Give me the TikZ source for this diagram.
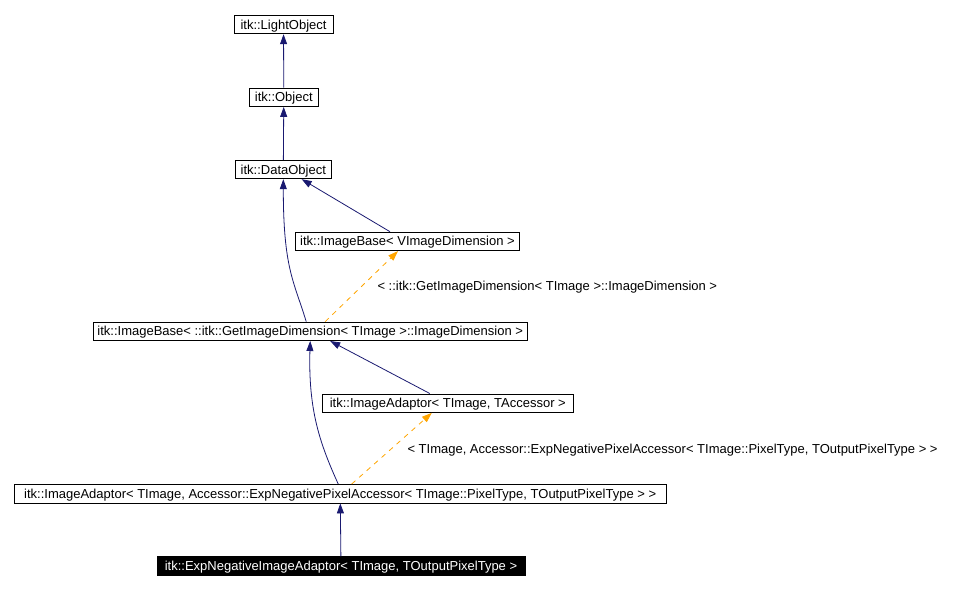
\documentclass[tikz,border=0pt]{standalone}
\usepackage{fontspec}
\setmainfont{Liberation Sans}
\usepackage{tikz}
\usetikzlibrary{arrows.meta,positioning}

\definecolor{edgeblue}{HTML}{191970}
\definecolor{edgeorange}{HTML}{FFA500}

\tikzset{
  cls/.style={draw,line width=0.9pt,inner xsep=4pt,inner ysep=0pt,
    minimum height=18.5pt,text depth=1.5pt,text height=10.5pt,
    font=\fontsize{13}{15}\selectfont},
  clsme/.style={cls,fill=black,text=white},
  inh/.style={edgeblue,line width=0.8pt,-{Triangle[length=10pt,width=7pt]}},
  tpl/.style={edgeorange,line width=0.8pt,dash pattern=on 5pt off 5pt,
    -{Triangle[length=10pt,width=7pt]}},
  lbl/.style={inner sep=0pt,font=\fontsize{13}{15}\selectfont}
}

\begin{document}
\begin{tikzpicture}[x=1pt,y=-1pt]
        \useasboundingbox (0,0) rectangle (964,590);

        \node[cls,minimum width=99pt]    (light)  at (283.5,24.5) {itk::LightObject};
        \node[cls,minimum width=69pt]    (object) at (283.8,97.2) {itk::Object};
        \node[cls,minimum width=96.7pt]  (datao)  at (283.3,169.5) {itk::DataObject};
        \node[cls,minimum width=223.6pt] (ibasev) at (407.5,241.4) {itk::ImageBase< VImageDimension >};
        \node[cls,minimum width=429.7pt] (ibase)  at (310.2,331.3) {itk::ImageBase< ::itk::GetImageDimension< TImage >::ImageDimension >};
        \node[cls,minimum width=251pt]   (iadapt) at (447.8,403.2) {itk::ImageAdaptor< TImage, TAccessor >};
        \node[cls,minimum width=651.7pt] (adapt)  at (340.2,493.7) {itk::ImageAdaptor< TImage, Accessor::ExpNegativePixelAccessor< TImage::PixelType, TOutputPixelType > >};
        \node[clsme,minimum width=368pt] (expneg) at (341,566) {itk::ExpNegativeImageAdaptor< TImage, TOutputPixelType >};

        \node[lbl,anchor=west] (lbase)  at (377.3,286.7) {< ::itk::GetImageDimension< TImage >::ImageDimension >};
        \node[lbl,anchor=west] (ladapt) at (407.3,450) {< TImage, Accessor::ExpNegativePixelAccessor< TImage::PixelType, TOutputPixelType > >};

        \draw[inh] (object) -- (light);
        \draw[inh] (datao) -- (object);
        \draw[inh] ([xshift=-17.5pt]ibasev.north) -- ([xshift=18.4pt]datao.south);
        \draw[inh] ([xshift=-4pt]ibase.north) .. controls +(-12,-40) and +(0,90) .. (datao.south);
        \draw[tpl] ([xshift=15pt]ibase.north) -- ([xshift=-9.5pt]ibasev.south);
        \draw[inh] ([xshift=-18pt]iadapt.north) -- ([xshift=20pt]ibase.south);
        \draw[inh] ([xshift=-2pt]adapt.north) .. controls +(-18,-40) and +(-2,70) .. (ibase.south);
        \draw[tpl] ([xshift=11.5pt]adapt.north) -- ([xshift=-16pt]iadapt.south);
        \draw[inh] (expneg) -- (adapt);
    \end{tikzpicture}
\end{document}
